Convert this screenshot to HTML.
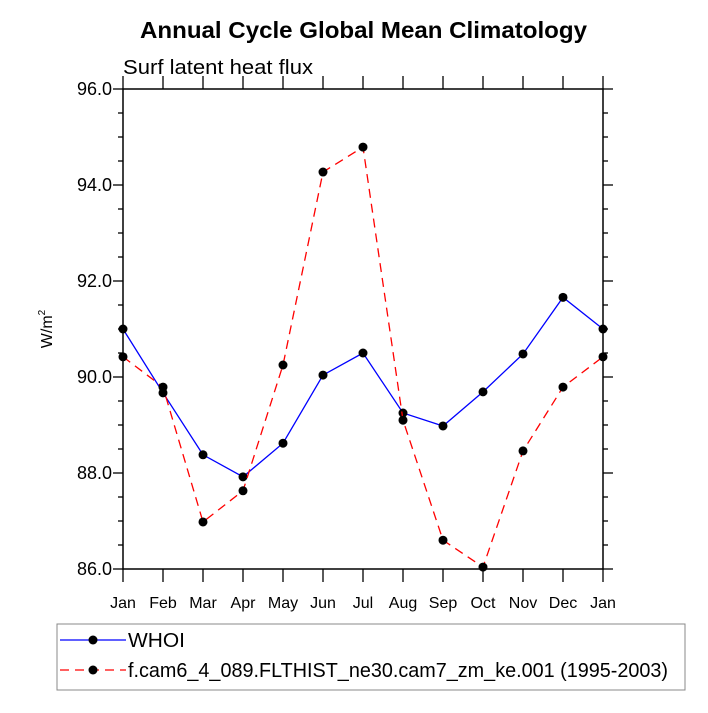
<!DOCTYPE html>
<html><head><meta charset="utf-8"><style>
body{margin:0;background:#fff;}
svg text{font-family:"Liberation Sans",Helvetica,Arial,sans-serif;}
</style></head><body>
<svg id="chart" width="708" height="708" viewBox="0 0 708 708" xmlns="http://www.w3.org/2000/svg">
<rect width="708" height="708" fill="#fff"/>
<text x="140" y="38" font-size="23" font-weight="bold" textLength="447" lengthAdjust="spacingAndGlyphs">Annual Cycle Global Mean Climatology</text>
<text x="123" y="74" font-size="20" textLength="190" lengthAdjust="spacingAndGlyphs">Surf latent heat flux</text>
<text transform="translate(52,329) rotate(-90)" text-anchor="middle" font-size="16">W/m<tspan dy="-7" font-size="10">2</tspan></text>
<g id="axes"></g>
<g id="series"></g>
<g>
<rect x="57" y="624" width="628" height="66" fill="none" stroke="#888" stroke-width="1"/>
<line x1="60" y1="640" x2="126" y2="640" stroke="#00f" stroke-width="1.3"/>
<circle cx="93" cy="640" r="4.5" fill="#000"/>
<text x="128" y="647" font-size="20" textLength="57" lengthAdjust="spacingAndGlyphs">WHOI</text>
<line x1="60" y1="670" x2="126" y2="670" stroke="#f00" stroke-width="1.3" stroke-dasharray="9,6"/>
<circle cx="93" cy="670" r="4.5" fill="#000"/>
<text x="128" y="677" font-size="20" textLength="540" lengthAdjust="spacingAndGlyphs">f.cam6_4_089.FLTHIST_ne30.cam7_zm_ke.001 (1995-2003)</text>
</g>
</svg>
<script>
const months = ["Jan","Feb","Mar","Apr","May","Jun","Jul","Aug","Sep","Oct","Nov","Dec","Jan"];
const whoi = [91.0,89.67,88.38,87.92,88.62,90.04,90.5,89.25,88.98,89.69,90.48,91.66,91.0];
const model = [90.42,89.79,86.98,87.63,90.25,94.27,94.79,89.1,86.6,86.04,88.46,89.79,90.42];
const yTicks = [86,88,90,92,94,96];
const yTickLabels = ["86.0","88.0","90.0","92.0","94.0","96.0"];
const NS="http://www.w3.org/2000/svg";
const L=123,R=603,T=89,B=569,YMIN=86,YMAX=96;
function xs(i){return L+(R-L)*i/(months.length-1);}
function ys(v){return B-(v-YMIN)/(YMAX-YMIN)*(B-T);}
function mk(tag,attrs,parent){const e=document.createElementNS(NS,tag);for(const k in attrs)e.setAttribute(k,attrs[k]);parent.appendChild(e);return e;}
const ax=document.getElementById('axes');
const frame=mk('rect',{x:L,y:T,width:R-L,height:B-T,fill:'none',stroke:'#000','stroke-width':1.5},ax);


months.forEach((m,i)=>{
  const x=xs(i);
  mk('line',{x1:x,y1:B,x2:x,y2:B+13,stroke:'#000','stroke-width':1.3},ax);
  mk('line',{x1:x,y1:T,x2:x,y2:T-13,stroke:'#000','stroke-width':1.3},ax);
  const t=mk('text',{x:x,y:B+39,'text-anchor':'middle','font-size':16},ax);
  t.textContent=m;
  
  
});
for(let v=YMIN;v<=YMAX+1e-9;v+=0.5){
  const y=ys(v);const major=Math.abs(v-Math.round(v/2)*2)<1e-9;
  const len=major?10:5;
  mk('line',{x1:L,y1:y,x2:L-len,y2:y,stroke:'#000','stroke-width':1.3},ax);
  mk('line',{x1:R,y1:y,x2:R+len,y2:y,stroke:'#000','stroke-width':1.3},ax);
}
yTicks.forEach((v,i)=>{
  const t=mk('text',{x:L-11,y:ys(v)+6,'text-anchor':'end','font-size':18},ax);
  t.textContent=yTickLabels[i];
  
  
});
const sg=document.getElementById('series');
function draw(vals,color,dash,name){
  const p=mk('polyline',{points:vals.map((v,i)=>xs(i)+','+ys(v)).join(' '),fill:'none',stroke:color,'stroke-width':1.3},sg);
  if(dash)p.setAttribute('stroke-dasharray',dash);
  
  
  vals.forEach((v,i)=>{
    const c=mk('circle',{cx:xs(i),cy:ys(v),r:4.5,fill:'#000'},sg);
    
    
  });
}
draw(whoi,'#00f',null,'whoi');
draw(model,'#f00','9,6','model');
</script>
</body></html>
